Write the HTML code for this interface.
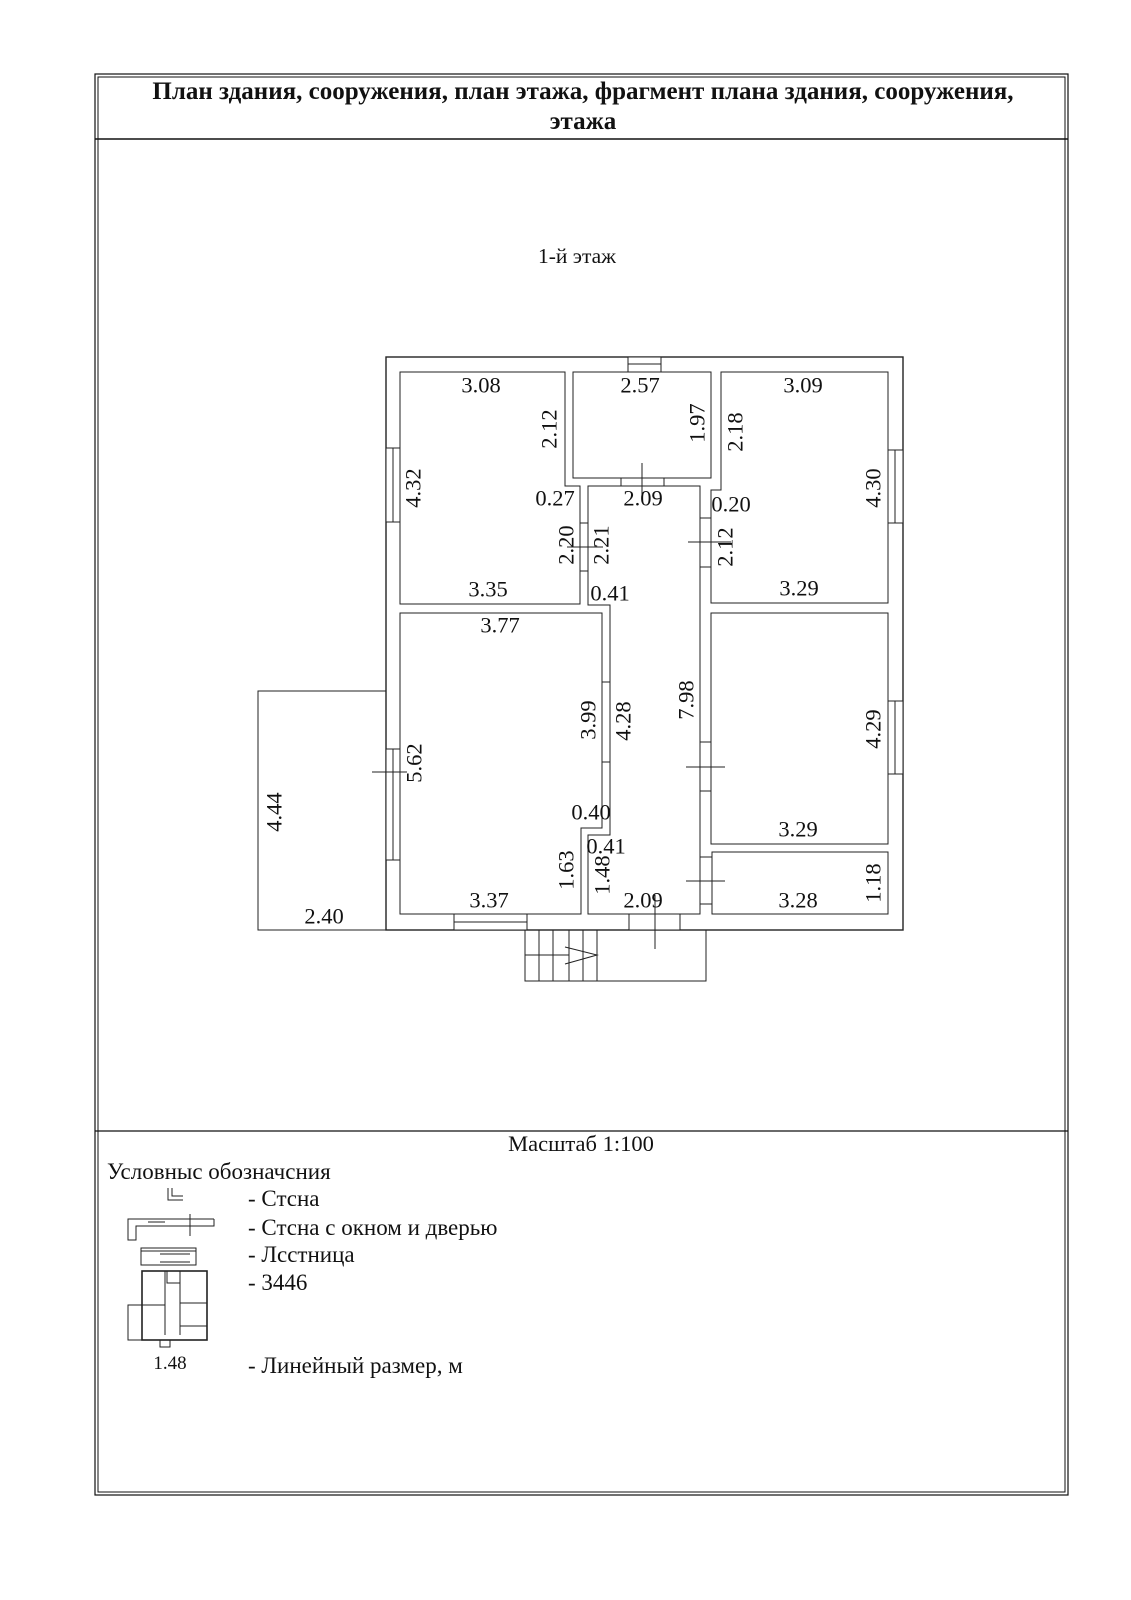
<!DOCTYPE html>
<html><head><meta charset="utf-8"><style>
html,body{margin:0;padding:0;background:#fff}
svg{display:block}
text{font-family:"Liberation Serif",serif;fill:#111}
</style></head><body>
<svg width="1131" height="1600" viewBox="0 0 1131 1600" xmlns="http://www.w3.org/2000/svg">
<g fill="none" stroke="#111">
<rect x="95" y="74" width="973" height="1421" stroke-width="1.2"/>
<rect x="98" y="77" width="967" height="1415" stroke-width="1"/>
<line x1="95" y1="139" x2="1068" y2="139" stroke-width="1.5"/>
<line x1="95" y1="1131" x2="1068" y2="1131" stroke-width="1.3"/>
</g>
<text x="583" y="99" font-size="25" font-weight="bold" text-anchor="middle">План здания, сооружения, план этажа, фрагмент плана здания, сооружения,</text>
<text x="583" y="129" font-size="25" font-weight="bold" text-anchor="middle">этажа</text>
<text x="577" y="263" font-size="21.5" text-anchor="middle">1-й этаж</text>

<g fill="none" stroke="#222" stroke-width="1">
<rect x="386" y="357" width="517" height="573" stroke-width="1.4"/>
<polyline points="386,691 258,691 258,930 386,930"/>
<rect x="525" y="930" width="181" height="51"/>
<line x1="539" y1="930" x2="539" y2="981"/>
<line x1="553" y1="930" x2="553" y2="981"/>
<line x1="569" y1="930" x2="569" y2="981"/>
<line x1="583" y1="930" x2="583" y2="981"/>
<line x1="597" y1="930" x2="597" y2="981"/>
<line x1="525" y1="955" x2="569" y2="955"/>
<polyline points="565,947 597,955 565,964"/>
<polygon points="400,372 565,372 565,486 580,486 580,604 400,604"/>
<rect x="573" y="372" width="138" height="106"/>
<polygon points="588,486 700,486 700,914 588,914 588,835 610,835 610,605 588,605"/>
<polygon points="721,372 888,372 888,603 711,603 711,490 721,490"/>
<rect x="711" y="613" width="177" height="231"/>
<rect x="712" y="852" width="176" height="62"/>
<polygon points="400,613 602,613 602,828 581,828 581,914 400,914"/>

<rect x="628" y="357" width="33" height="15" fill="#fff"/>
<line x1="628" y1="364" x2="661" y2="364"/>
<rect x="386" y="448" width="14" height="74" fill="#fff"/>
<line x1="393" y1="448" x2="393" y2="522"/>
<rect x="888" y="450" width="15" height="73" fill="#fff"/>
<line x1="895" y1="450" x2="895" y2="523"/>
<rect x="386" y="749" width="14" height="111" fill="#fff"/>
<line x1="393" y1="749" x2="393" y2="860"/>
<rect x="888" y="701" width="15" height="73" fill="#fff"/>
<line x1="895" y1="701" x2="895" y2="774"/>
<rect x="454" y="914" width="73" height="16" fill="#fff"/>
<line x1="454" y1="922" x2="527" y2="922"/>

<rect x="621" y="478" width="43" height="8" fill="#fff"/>
<line x1="642" y1="463" x2="642" y2="497"/>
<rect x="580" y="523" width="8" height="48" fill="#fff"/>
<line x1="567" y1="547" x2="603" y2="547"/>
<rect x="700" y="518" width="11" height="49" fill="#fff"/>
<line x1="688" y1="542" x2="731" y2="542"/>
<line x1="372" y1="772" x2="407" y2="772"/>
<rect x="602" y="682" width="8" height="80" fill="#fff"/>
<rect x="700" y="742" width="11" height="49" fill="#fff"/>
<line x1="686" y1="767" x2="725" y2="767"/>
<rect x="700" y="857" width="12" height="47" fill="#fff"/>
<line x1="686" y1="881" x2="725" y2="881"/>
<rect x="629" y="914" width="51" height="16" fill="#fff"/>
<line x1="655" y1="895" x2="655" y2="949"/>
</g>

<g font-size="22.5" text-anchor="middle" dominant-baseline="central">
<text x="481" y="385">3.08</text>
<text x="640" y="385">2.57</text>
<text x="803" y="385">3.09</text>
<text x="555" y="498">0.27</text>
<text x="643" y="498">2.09</text>
<text x="731" y="504">0.20</text>
<text x="488" y="589">3.35</text>
<text x="610" y="593">0.41</text>
<text x="799" y="588">3.29</text>
<text x="500" y="625">3.77</text>
<text x="591" y="812">0.40</text>
<text x="606" y="846">0.41</text>
<text x="798" y="829">3.29</text>
<text x="489" y="900">3.37</text>
<text x="643" y="900">2.09</text>
<text x="798" y="900">3.28</text>
<text x="324" y="916">2.40</text>
<text transform="translate(549,429) rotate(-90)">2.12</text>
<text transform="translate(697,423) rotate(-90)">1.97</text>
<text transform="translate(735,432) rotate(-90)">2.18</text>
<text transform="translate(413,488) rotate(-90)">4.32</text>
<text transform="translate(873,488) rotate(-90)">4.30</text>
<text transform="translate(566,545) rotate(-90)">2.20</text>
<text transform="translate(601,545) rotate(-90)">2.21</text>
<text transform="translate(725,547) rotate(-90)">2.12</text>
<text transform="translate(588,720) rotate(-90)">3.99</text>
<text transform="translate(623,721) rotate(-90)">4.28</text>
<text transform="translate(686,700) rotate(-90)">7.98</text>
<text transform="translate(873,729) rotate(-90)">4.29</text>
<text transform="translate(414,763) rotate(-90)">5.62</text>
<text transform="translate(566,870) rotate(-90)">1.63</text>
<text transform="translate(602,875) rotate(-90)">1.48</text>
<text transform="translate(873,883) rotate(-90)">1.18</text>
<text transform="translate(274,812) rotate(-90)">4.44</text>
</g>

<text x="581" y="1151" font-size="22.5" text-anchor="middle">Масштаб 1:100</text>
<text x="107" y="1179" font-size="23">Условныс обозначсния</text>
<g font-size="23">
<text x="248" y="1206">- Стсна</text>
<text x="248" y="1235">- Стсна с окном и дверью</text>
<text x="248" y="1262">- Лсстница</text>
<text x="248" y="1290">- 3446</text>
<text x="248" y="1373">- Линейный размер, м</text>
</g>
<text x="170" y="1369" font-size="19" text-anchor="middle">1.48</text>
<g fill="none" stroke="#222" stroke-width="1">
<polyline points="168,1188 168,1200 183,1200"/>
<polyline points="172,1188 172,1196 183,1196"/>
<polyline points="214,1219 128,1219 128,1240 136,1240 136,1226 214,1226 214,1219"/>
<line x1="148" y1="1222" x2="165" y2="1222"/>
<line x1="190" y1="1214" x2="190" y2="1236"/>
<rect x="141" y="1248" width="55" height="17"/>
<line x1="141" y1="1251" x2="196" y2="1251"/>
<line x1="160" y1="1254" x2="190" y2="1254"/>
<line x1="160" y1="1262" x2="190" y2="1262"/>
<rect x="142" y="1271" width="65" height="69" stroke-width="1.6"/>
<rect x="128" y="1305" width="14" height="35"/>
<line x1="142" y1="1305" x2="165" y2="1305"/>
<line x1="180" y1="1303" x2="207" y2="1303"/>
<line x1="165" y1="1271" x2="165" y2="1335"/>
<line x1="180" y1="1271" x2="180" y2="1335"/>
<rect x="167" y="1271" width="13" height="12"/>
<line x1="180" y1="1326" x2="207" y2="1326"/>
<rect x="160" y="1340" width="10" height="7"/>
</g>
</svg>
</body></html>
